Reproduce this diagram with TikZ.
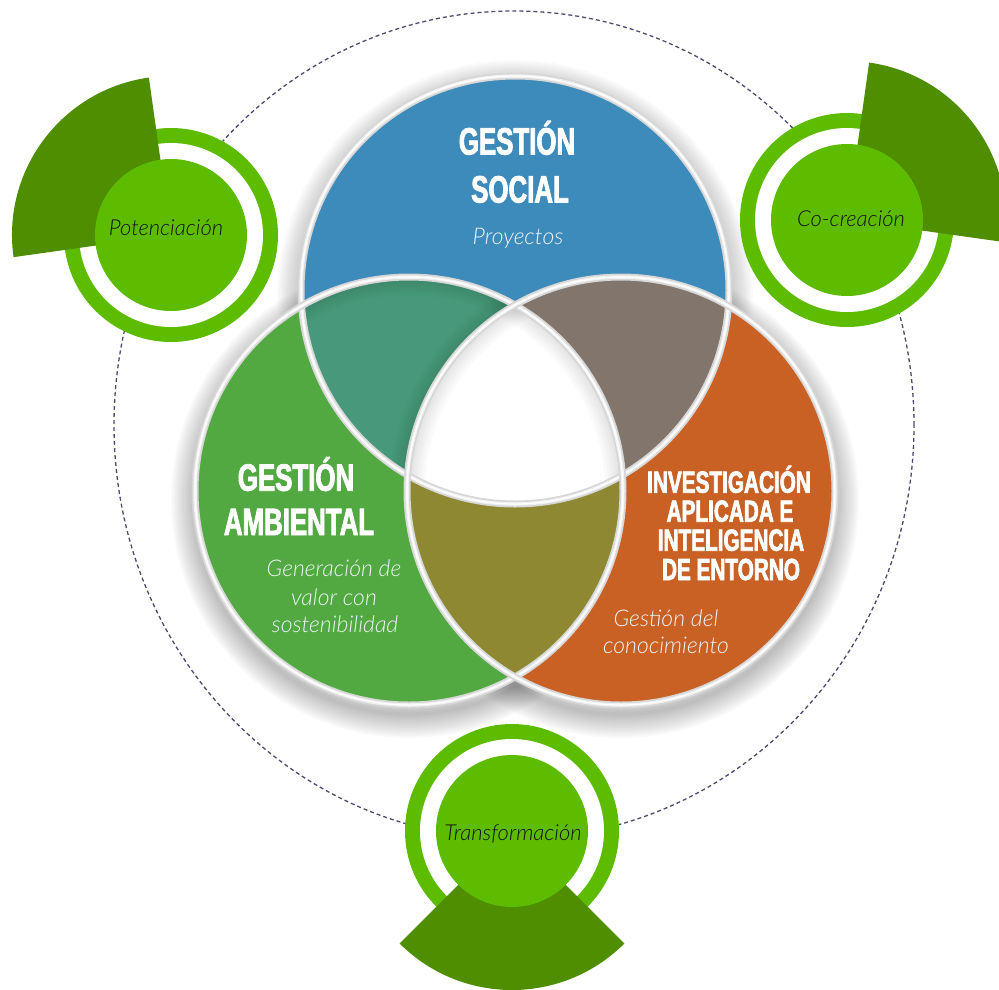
\documentclass[tikz,border=0pt]{standalone}
\usepackage{fontspec}
\setmainfont{Lato}
\newfontfamily\lightfont{Lato Light}
\newfontfamily\headfont[FakeStretch=0.68,FakeBold=2.2]{Liberation Sans}
\usetikzlibrary{shapes.geometric}
\definecolor{cblue}{HTML}{3D8BBA}
\definecolor{cgreen}{HTML}{52A941}
\definecolor{corange}{HTML}{C96125}
\definecolor{cteal}{HTML}{48997B}
\definecolor{cbrown}{HTML}{82766C}
\definecolor{colive}{HTML}{8E8832}
\definecolor{blight}{HTML}{5DBB00}
\definecolor{bdark}{HTML}{4E8E00}
\definecolor{dashc}{HTML}{4B4B6E}
\definecolor{subc}{HTML}{EEF3F6}
\tikzset{
  head/.style={font=\headfont\bfseries\fontsize{38}{40}\selectfont, text=white, anchor=base, inner sep=0pt},
  headsm/.style={font=\headfont\bfseries\fontsize{30.5}{32}\selectfont, text=white, anchor=base, inner sep=0pt},
  sub/.style={font=\lightfont\itshape\fontsize{23}{25}\selectfont, text=subc, anchor=base, inner sep=0pt},
  badgetext/.style={font=\lightfont\itshape\fontsize{22}{24}\selectfont, text=black!92, anchor=base, inner sep=0pt},
  disc/.style={circle, fill=blight, minimum size=152pt, inner sep=0pt},
  vennborder/.style={line width=7pt, black!16},
  vennborderin/.style={line width=3.5pt, black!6},
  vennhl/.style={line width=1.2pt, white},
  orbit/.style={ellipse, draw=dashc, line width=1.3pt, dash pattern=on 4pt off 3pt, minimum width=800pt, minimum height=828pt, inner sep=0pt}
}
\begin{document}
\begin{tikzpicture}[x=1pt,y=-1pt]
\useasboundingbox (0,0) rectangle (999,989);
\clip (0,0) rectangle (999,989);

% dashed orbit
\node[orbit] (orb) at (514,425) {};

% venn centres
\coordinate (S) at (515,290);
\coordinate (A) at (409,491);
\coordinate (I) at (621,491);
\def\R{214}

% soft shadow
\foreach \w in {4,8,...,48}{
  \draw[line width=\w pt, black, opacity=0.02] ([yshift=-8pt]S) circle[radius=\R];
  \draw[line width=\w pt, black, opacity=0.022] ([yshift=-9pt]A) circle[radius=\R];
  \draw[line width=\w pt, black, opacity=0.022] ([yshift=-9pt]I) circle[radius=\R];
}

% main discs
\fill[cblue] (S) circle[radius=\R];
\fill[cgreen] (A) circle[radius=\R];
\fill[corange] (I) circle[radius=\R];
% pairwise overlaps
\begin{scope}
  \clip (S) circle[radius=\R];
  \fill[cteal] (A) circle[radius=\R];
  \fill[cbrown] (I) circle[radius=\R];
\end{scope}
\begin{scope}
  \clip (A) circle[radius=\R];
  \fill[colive] (I) circle[radius=\R];
\end{scope}
% triple overlap
\begin{scope}
  \clip (S) circle[radius=\R];
  \clip (A) circle[radius=\R];
  \fill[white] (I) circle[radius=\R];
  \foreach \w in {6,12,...,36}{
    \draw[line width=\w pt, black, opacity=0.02] (I) circle[radius=\R];
    \draw[line width=\w pt, black, opacity=0.02] (A) circle[radius=\R];
  }
\end{scope}

% borders
\foreach \c in {S,A,I}{
  \draw[vennborder] (\c) circle[radius=\R];
  \draw[vennborderin] (\c) circle[radius=\R];
  \draw[vennhl] (\c) circle[radius=\R];
}

% venn texts
\node[head] (s1) at (517,154.5) {GESTIÓN};
\node[head] (s2) at (520,202.5) {SOCIAL};
\node[sub] (s3) at (518,244.3) {Proyectos};

\node[head] (a1) at (296,490.7) {GESTIÓN};
\node[head] (a2) at (299,535) {AMBIENTAL};
\node[sub] (a3) at (334,576.7) {Generación de};
\node[sub] (a4) at (334,605) {valor con};
\node[sub] (a5) at (335,632.7) {sostenibilidad};

\node[headsm] (i1) at (729,492.7) {INVESTIGACIÓN};
\node[headsm] (i2) at (730,521.7) {APLICADA E};
\node[headsm] (i3) at (731,550.7) {INTELIGENCIA};
\node[headsm] (i4) at (731,580) {DE ENTORNO};
\node[sub] (i5) at (666,626.7) {Gestión del};
\node[sub] (i6) at (666,653.3) {conocimiento};

% badges
% Potenciacion
\coordinate (P) at (171,235);
\fill[blight] (P) circle[radius=107];
\fill[white] (P) circle[radius=92];
\fill[bdark] (P) -- ++(172:159) arc[start angle=172, end angle=262, radius=159] -- cycle;
\node[disc] (pot) at (P) {};
\node[badgetext] (potT) at (166,235.7) {Potenciación};

% Co-creacion
\coordinate (C) at (847,220);
\fill[blight] (C) circle[radius=107];
\fill[white] (C) circle[radius=92];
\fill[bdark] (C) -- ++(-82:159) arc[start angle=-82, end angle=8, radius=159] -- cycle;
\node[disc] (cocre) at (C) {};
\node[badgetext] (cocreT) at (851,226.7) {Co-creación};

% Transformacion
\coordinate (T) at (512,831);
\fill[blight] (T) circle[radius=107];
\fill[white] (T) circle[radius=92];
\fill[bdark] (T) -- ++(45:159) arc[start angle=45, end angle=135, radius=159] -- cycle;
\node[disc] (trans) at (T) {};
\node[badgetext] (transT) at (513,840) {Transformación};
\end{tikzpicture}
\end{document}
